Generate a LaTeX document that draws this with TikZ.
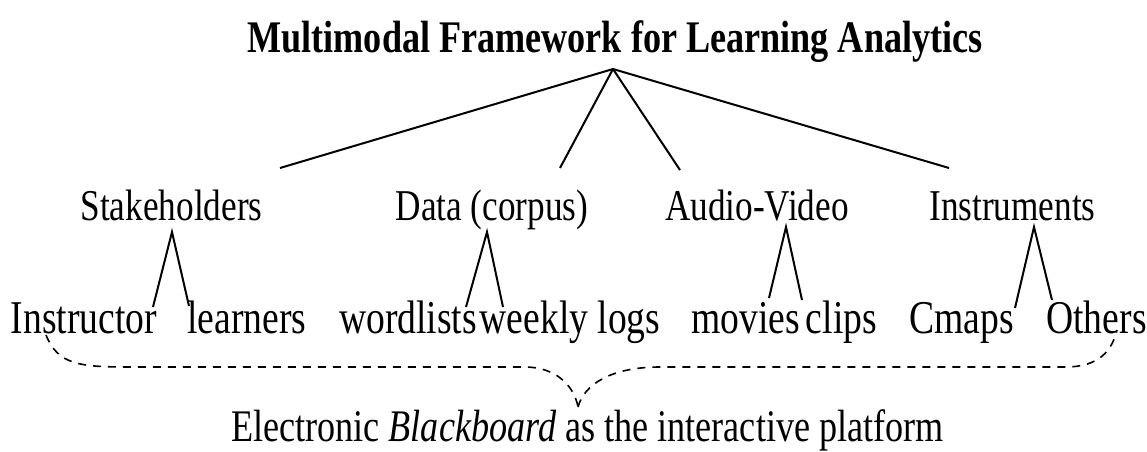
\documentclass[tikz,border=0pt]{standalone}
\usepackage{fontspec}
\setmainfont{Liberation Serif}[FakeStretch=0.8]
\usetikzlibrary{positioning, calc}
\tikzset{
  titletext/.style={font=\fontsize{22.6}{26}\selectfont\bfseries, inner sep=0pt, anchor=base},
  cattext/.style={font=\fontsize{22}{26}\selectfont, inner sep=0pt, anchor=base},
  leaftext/.style={font=\fontsize{23.5}{28}\selectfont, inner sep=0pt, anchor=base},
  platformtext/.style={font=\fontsize{22.6}{27}\selectfont, inner sep=0pt, anchor=base}
}
\tikzset{
  branch/.style={line width=1pt},
  platformlink/.style={line width=0.8pt, dash pattern=on 4pt off 3.5pt}
}

\begin{document}
\begin{tikzpicture}[x=0.5pt, y=-0.5pt]
  \useasboundingbox (0,0) rectangle (1147,451);
  \node[titletext] (title) at (615,52) {Multimodal Framework for Learning Analytics};
  \coordinate (root) at (613,69);
  % categories
  \foreach \name/\x/\txt in {stake/171.5/Stakeholders, data/492/{Data (corpus)}, av/757/Audio-Video, instr/1012.5/Instruments} {
    \node[cattext] (\name) at (\x,220) {\txt};
  }
  % root to the four categories
  \foreach \name/\x/\y in {stake/280/168, data/560/168, av/680/170, instr/949/168} {
    \coordinate (\name-top) at (\x,\y);
    \draw[branch] (root) -- (\name-top);
  }
  % leaves
  \foreach \name/\x/\txt in {instructor/84/Instructor, learners/247/learners, wordlists/408/wordlists, weekly/570/weekly logs,
      movies/745.5/movies, clips/841.5/clips, cmaps/961.5/Cmaps, others/1096.5/Others} {
    \node[leaftext] (\name) at (\x,333) {\txt};
  }
  % small carets under each category
  \foreach \name/\ax/\ay/\lx/\ly/\rx/\ry in {stake/172/232/153/307/189/306, data/487/232/466/307/503/307,
      av/786/227/769/298/802/300, instr/1034/227/1015/308/1052/300} {
    \coordinate (\name-apex) at (\ax,\ay);
    \coordinate (\name-l) at (\lx,\ly);
    \coordinate (\name-r) at (\rx,\ry);
    \draw[branch] (\name-l) -- (\name-apex) -- (\name-r);
  }
  % dashed brace down to the platform
  \coordinate (brace-l) at (46,335);
  \coordinate (brace-tip) at (578,407);
  \coordinate (brace-r) at (1117,330);
  \draw[platformlink] (brace-l) .. controls (58,365) and (80,367) .. (130,367) -- (525,367)
    .. controls (555,367) and (574,385) .. (brace-tip);
  \draw[platformlink] (brace-tip) .. controls (584,385) and (610,367) .. (660,367) -- (1065,367)
    .. controls (1100,367) and (1112,350) .. (brace-r);
  \node[platformtext] (platform) at (587.5,441) {Electronic \textit{Blackboard} as the interactive platform};
\end{tikzpicture}
\end{document}
